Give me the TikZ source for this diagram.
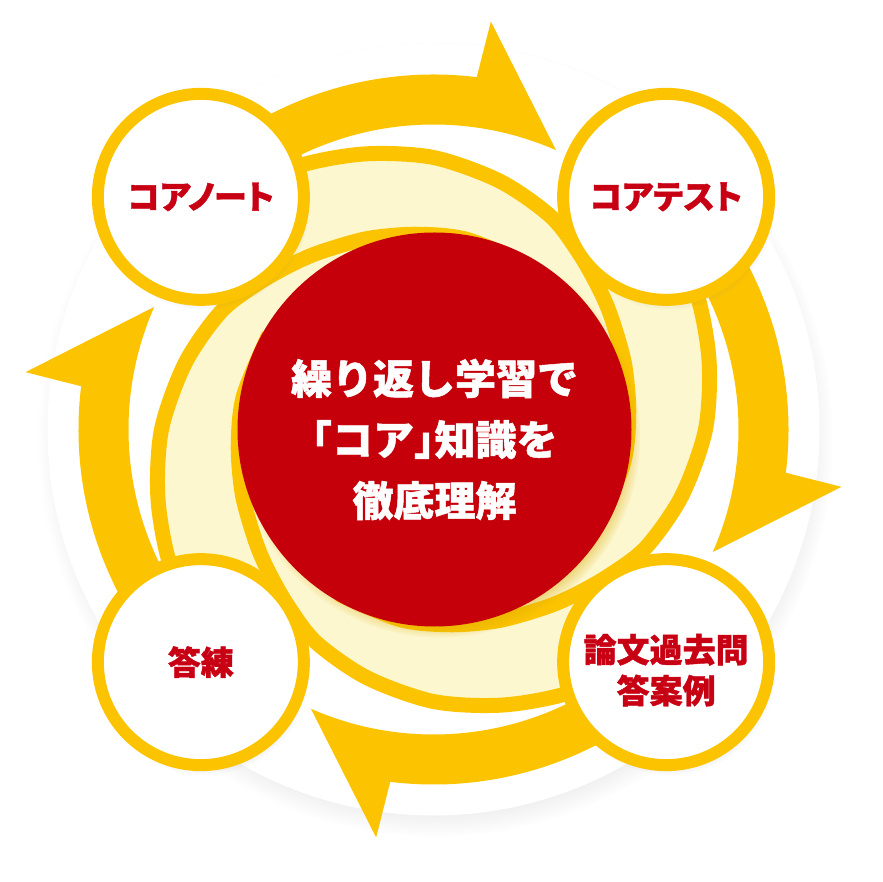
\documentclass[tikz,border=0pt]{standalone}
\usepackage{fontspec}
\usetikzlibrary{shadows}
\newfontfamily\jpfont{Noto Sans CJK JP}[BoldFeatures={FakeBold=1.2}]
\newfontfamily\jppfont{Noto Sans CJK JP}[RawFeature=+palt, BoldFeatures={FakeBold=1.2}]
\definecolor{cycleyellow}{RGB}{252,196,0}
\definecolor{cyclecream}{RGB}{253,247,207}
\definecolor{corered}{RGB}{197,0,11}
\definecolor{labelred}{RGB}{200,0,20}
\definecolor{coreshade}{RGB}{214,166,0}

\begin{document}
\begin{tikzpicture}[x=1pt, y=1pt,
    stage/.style={circle, draw=cycleyellow, line width=12pt, fill=white, minimum size=206pt, inner sep=0pt,
        align=center, text=labelred, font=\jppfont\bfseries\fontsize{33}{41}\selectfont,
        circular drop shadow={shadow xshift=3pt, shadow yshift=-7pt, opacity=.25, shadow scale=1.03}},
    stagetext/.style={align=center, text=labelred, inner sep=0pt, font=\jppfont\bfseries\fontsize{33}{41}\selectfont},
    core/.style={circle, fill=corered, minimum size=394pt, inner sep=0pt,
        circular drop shadow={shadow xshift=5pt, shadow yshift=-7pt, fill=coreshade, opacity=.9, shadow scale=1.02}},
    coretext/.style={align=center, text=white, inner sep=0pt, font=\jpfont\bfseries\fontsize{41}{61}\selectfont},
    band/.style={fill=cycleyellow},
    arm/.style={draw=cycleyellow, line width=15pt}]
\useasboundingbox (-433.5,-452.5) rectangle (448.5,429.5);
\fill[white, circular drop shadow={shadow xshift=2pt, shadow yshift=-9pt, opacity=.3, shadow scale=1.03}] (0,0) circle[radius=386];
% swirl behind the core
\foreach \k in {0,1,2,3}
	\fill[cyclecream, rotate=-90*\k] (0,0) -- plot[smooth] coordinates {(140:318) (130:308) (117:296) (104:284) (90:272) (75:257) (61:243) (50:228) (40:217) (32:210) (19:202) (5:196) (-10:193) (-30:190)} -- cycle;
\foreach \k in {0,1,2,3}
	\draw[arm, rotate=-90*\k] plot[smooth] coordinates {(140:318) (130:308) (117:296) (104:284) (90:272) (75:257) (61:243) (50:228) (40:217) (32:210) (19:202) (5:196) (-10:193) (-30:190)};
% cycle arrows
\foreach \k in {0,1,2,3}
	\fill[band, rotate=-90*\k] (135:355) arc[start angle=135, end angle=83, radius=355] -- (82:412) -- (66.3:305) arc[start angle=66.3, end angle=135, radius=305] -- cycle;
\node[core] (core) at (1,0) {};
\node[coretext] (slogan) at ([yshift=-10pt]core.center) {繰り返し学習で\\\hspace*{-.5em}「コア」\hspace{-.5em}知識を\\徹底理解};
\node[stage] (note) at (135:329) {コアノート};
\node[stage] (test) at (45:329) {コアテスト};
\node[stage] (past) at (-45:329) {};
\node[stage] (drill) at (-135:329) {答練};
\node[stagetext] (pastlabel) at ([yshift=-8pt]past.center) {論文過去問\\答案例};
\end{tikzpicture}
\end{document}
